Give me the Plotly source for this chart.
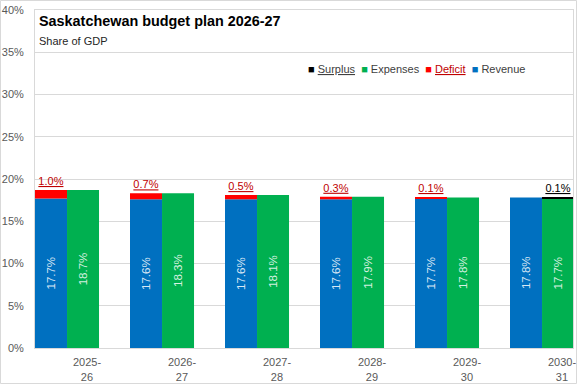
import plotly.graph_objects as go

# ---- data (share of GDP, %) ----
years = ["2025-<br>26", "2026-<br>27", "2027-<br>28", "2028-<br>29", "2029-<br>30", "2030-<br>31"]
revenue = [17.7, 17.6, 17.6, 17.6, 17.7, 17.8]
expenses = [18.7, 18.3, 18.1, 17.9, 17.8, 17.7]
deficit = [1.0, 0.7, 0.5, 0.3, 0.1, 0.0]
surplus = [0.0, 0.0, 0.0, 0.0, 0.0, 0.1]

y_ticks = [0, 5, 10, 15, 20, 25, 30, 35, 40]
y_tick_labels = ["0%", "5%", "10%", "15%", "20%", "25%", "30%", "35%", "40%"]

BLUE = "#0070C0"
GREEN = "#00B050"
RED = "#FF0000"
DARKRED = "#C00000"
GRID = "#D9D9D9"
FONT = "Liberation Sans, Arial, sans-serif"

BW = 0.337
OFF_REV = -0.547
OFF_EXP = OFF_REV + BW


def fmt(vals):
    return [f"{v:.1f}%" if v > 0 else "" for v in vals]


fig = go.Figure()

fig.add_trace(go.Bar(
    x=years, y=revenue, name="Revenue", marker_color=BLUE, marker_line_width=0,
    width=BW, offset=OFF_REV,
    text=fmt(revenue), textposition="inside", textangle=-90, insidetextanchor="middle",
    textfont=dict(family=FONT, size=11.5, color="rgba(255,255,255,0.85)"),
    constraintext="none", showlegend=False,
))
fig.add_trace(go.Bar(
    x=years, y=deficit, base=revenue, name="Deficit", marker_color=RED, marker_line_width=0,
    width=BW, offset=OFF_REV,
    text=[f"<u>{t}</u>" if t else "" for t in fmt(deficit)], textposition="outside", textangle=0,
    textfont=dict(family=FONT, size=11, color=DARKRED),
    constraintext="none", cliponaxis=False, showlegend=False,
))
fig.add_trace(go.Bar(
    x=years, y=expenses, name="Expenses", marker_color=GREEN, marker_line_width=0,
    width=BW, offset=OFF_EXP,
    text=fmt(expenses), textposition="inside", textangle=-90, insidetextanchor="middle",
    textfont=dict(family=FONT, size=11.5, color="rgba(255,255,255,0.85)"),
    constraintext="none", showlegend=False,
))
fig.add_trace(go.Bar(
    x=years, y=surplus, base=expenses, name="Surplus", marker_color="#000000", marker_line_width=0,
    width=BW, offset=OFF_EXP,
    text=[f"<u>{t}</u>" if t else "" for t in fmt(surplus)], textposition="outside", textangle=0,
    textfont=dict(family=FONT, size=11, color="#000000"),
    constraintext="none", cliponaxis=False, showlegend=False,
))

legend_text = (
    "<span style='color:#000000'>\u25A0</span> <u>Surplus</u>\u00a0\u00a0"
    f"<span style='color:{GREEN}'>\u25A0</span> Expenses\u00a0\u00a0"
    f"<span style='color:{RED}'>\u25A0</span> <span style='color:{DARKRED}'><u>Deficit</u></span>\u00a0\u00a0"
    f"<span style='color:{BLUE}'>\u25A0</span> Revenue"
)

fig.update_layout(
    width=577, height=384,
    margin=dict(l=35, r=4, t=10, b=36, autoexpand=False),
    paper_bgcolor="white", plot_bgcolor="white",
    barmode="overlay",
    font=dict(family=FONT, size=11, color="#595959"),
    showlegend=False,
    xaxis=dict(
        type="category", range=[OFF_REV, OFF_REV + 538 / 95], automargin=False,
        showgrid=False, showline=True, linecolor=GRID, linewidth=1, mirror=True,
        ticks="", tickfont=dict(family=FONT, size=11, color="#595959"),
        ticklabelstandoff=4, fixedrange=True,
    ),
    yaxis=dict(
        range=[0, 40], tickvals=y_ticks, ticktext=y_tick_labels, automargin=False,
        showgrid=True, gridcolor=GRID, gridwidth=1,
        showline=True, linecolor=GRID, linewidth=1, mirror=True,
        zeroline=False, ticks="", ticklabelstandoff=8, fixedrange=True,
        tickfont=dict(family=FONT, size=11, color="#595959"),
    ),
    annotations=[
        dict(text="<b>Saskatchewan budget plan 2026-27</b>", xref="paper", yref="paper",
             x=(37 - 35) / 538, y=(348 - 21) / 338, xanchor="left", yanchor="middle",
             showarrow=False, font=dict(family=FONT, size=14.4, color="#000000")),
        dict(text="Share of GDP", xref="paper", yref="paper",
             x=(37 - 35) / 538, y=(348 - 41) / 338, xanchor="left", yanchor="middle",
             showarrow=False, font=dict(family=FONT, size=11, color="#262626")),
        dict(text=legend_text, xref="paper", yref="paper",
             x=(306 - 35) / 538, y=(348 - 69) / 338, xanchor="left", yanchor="middle",
             showarrow=False, font=dict(family=FONT, size=11, color="#404040")),
    ],
    shapes=[
        dict(type="rect", xref="paper", yref="paper",
             x0=(0.5 - 35) / 538, x1=(576.5 - 35) / 538,
             y0=(348 - 383.5) / 338, y1=(348 - 0.5) / 338,
             line=dict(color=GRID, width=1), fillcolor="rgba(0,0,0,0)", layer="below"),
    ],
)

fig.write_html(
    "out.html",
    config={"displayModeBar": False},
    post_script="document.body.style.margin='0px';document.body.style.overflow='hidden';",
)
